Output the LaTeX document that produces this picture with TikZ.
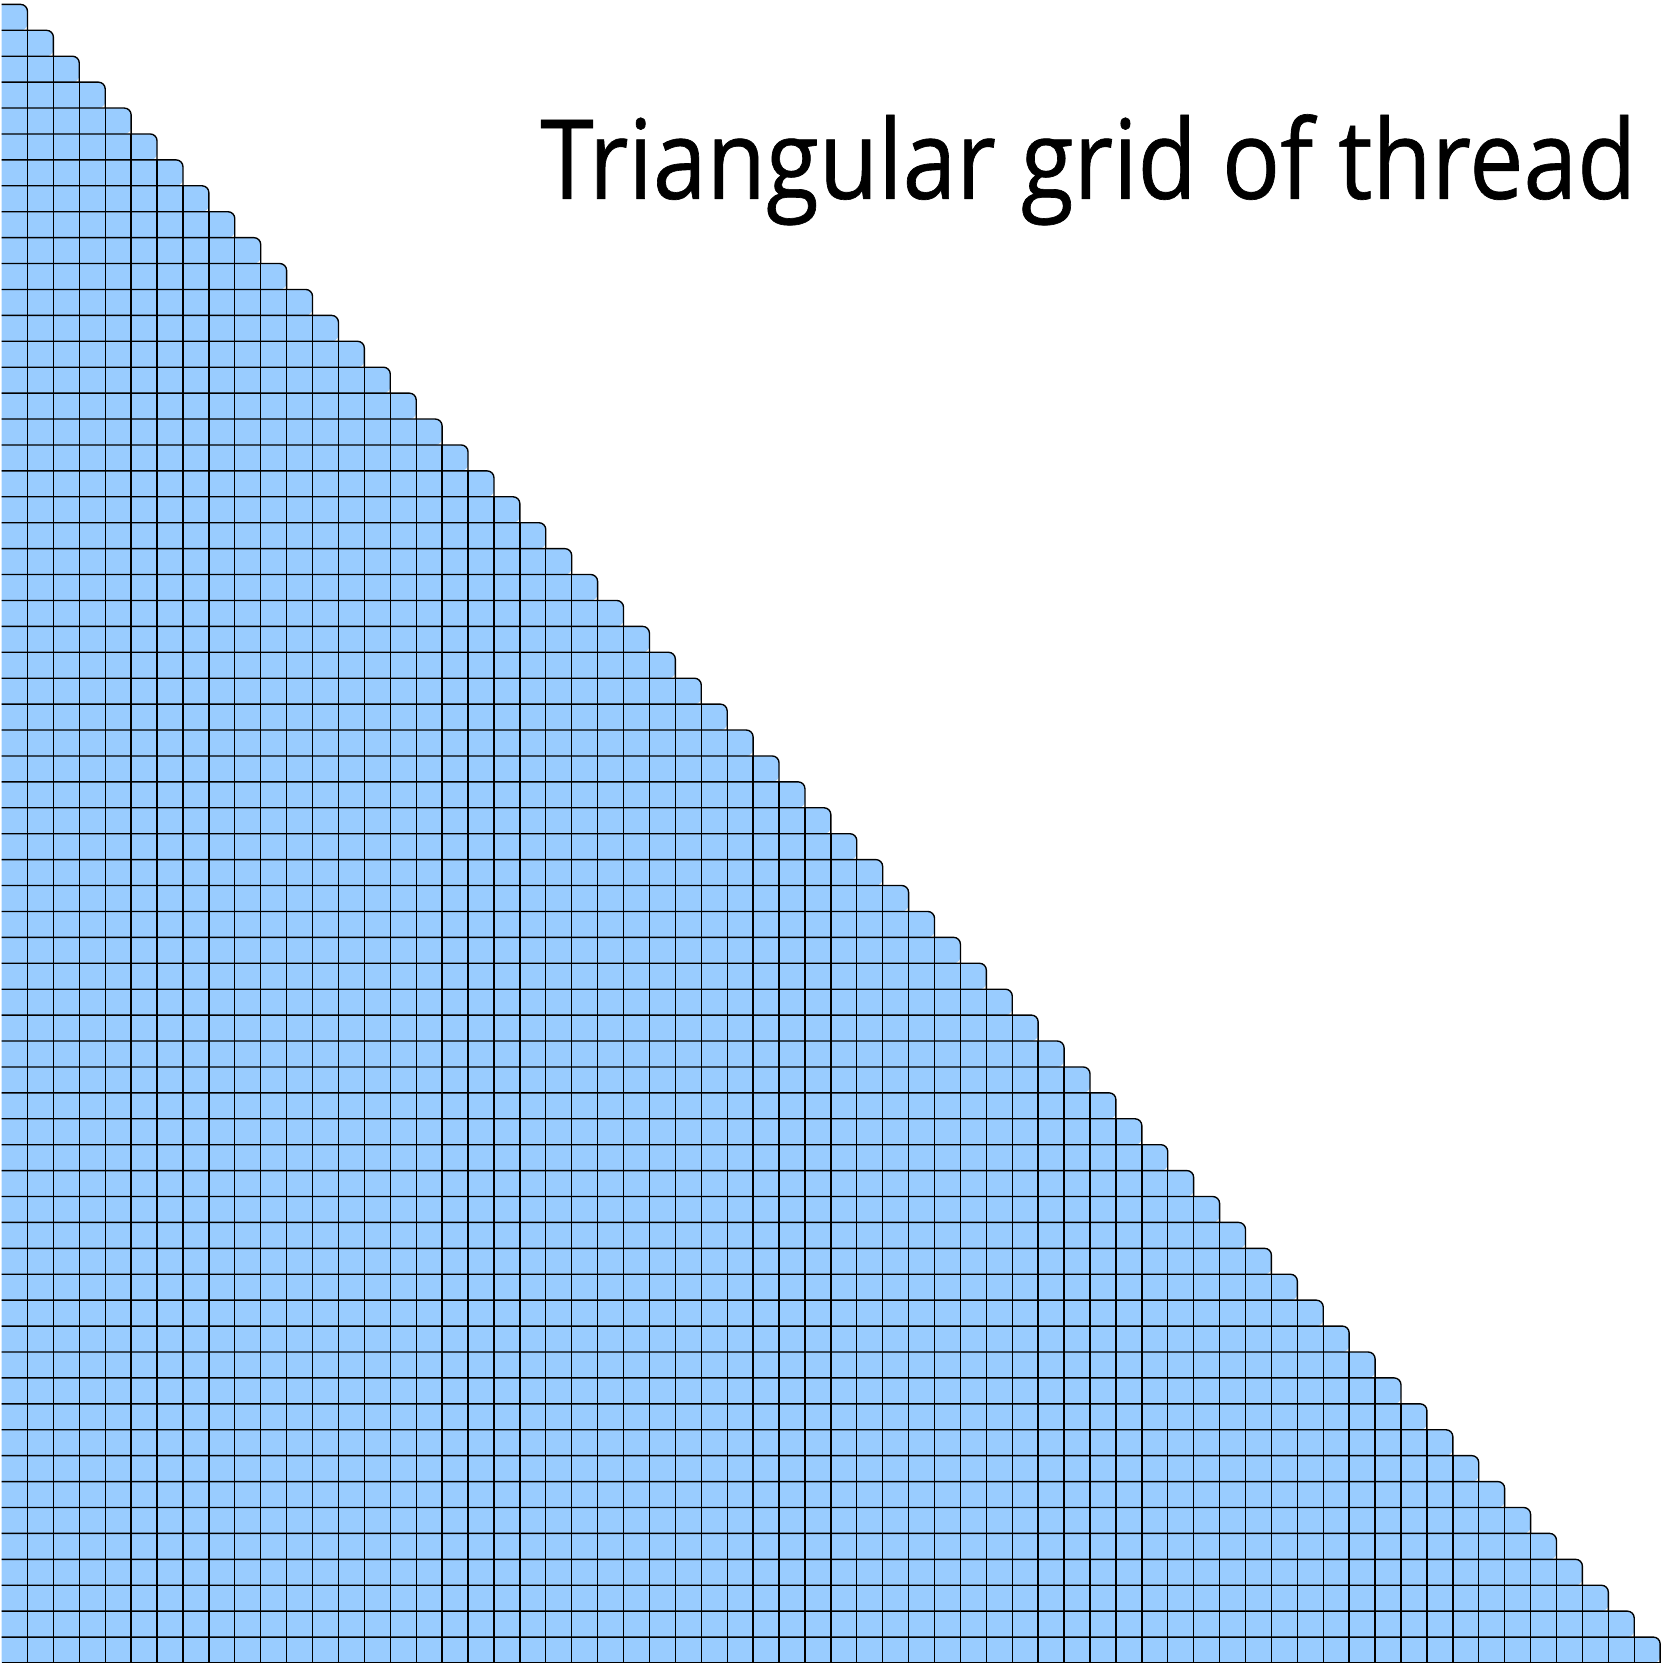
\documentclass[tikz,border=0pt]{standalone}
\usepackage{fontspec}
\newfontfamily\titlefont[FakeStretch=0.875, FakeBold=0.6]{Open Sans}
\definecolor{cellblue}{RGB}{153,204,255}
\tikzset{
  cellfill/.style={fill=cellblue},
  gridline/.style={draw=black, line width=0.6pt},
}
\begin{document}
\begin{tikzpicture}[x=0.4cm, y=0.4cm]
  \useasboundingbox (-0.06,0) rectangle (64,64.17);
  % Fill each row, rounded at the step
  \foreach \k in {0,...,63} {
    \pgfmathtruncatemacro\w{64-\k}
    \fill[cellfill] (0,\k) -- (0,\k+1) {[rounded corners=3pt] -- (\w,\k+1) -- (\w,\k)} -- cycle;
  }
  % Staircase edge of each row
  \foreach \k in {0,...,63} {
    \pgfmathtruncatemacro\w{64-\k}
    \draw[gridline, rounded corners=3pt] (0,\k+1) -- (\w,\k+1) -- (\w,\k);
  }
  % Inner vertical lines
  \foreach \c in {1,...,63} {
    \draw[gridline] (\c,0) -- (\c,64-\c);
  }
  % Bottom line
  \draw[gridline] (0,0) -- (64,0);

  \node[anchor=base east, inner sep=0pt, font=\titlefont\fontsize{48.5}{58}\selectfont] (title) at (63.1,56.5) {Triangular grid of thread};
\end{tikzpicture}
\end{document}
